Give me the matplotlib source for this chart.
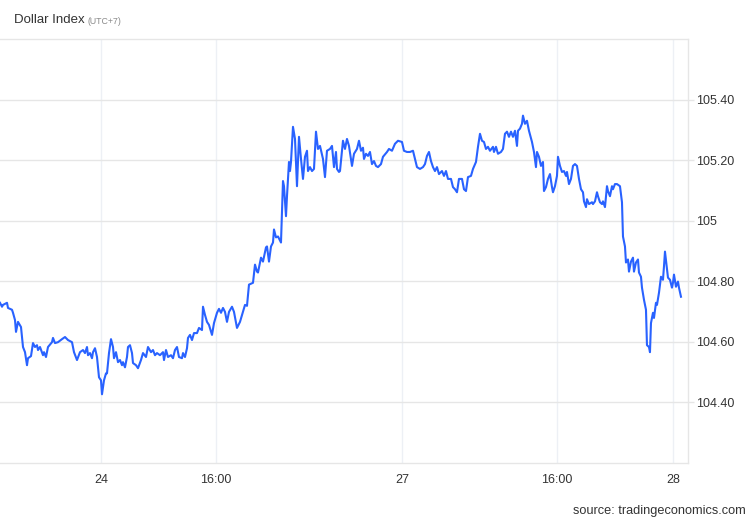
import matplotlib
matplotlib.use("Agg")
import matplotlib.pyplot as plt
from matplotlib.ticker import FuncFormatter

plt.rcParams["font.family"] = ["Liberation Sans", "DejaVu Sans"]

# position along the (trading-time) axis and index level
t = [
    0, 2, 3, 7, 8, 12, 13, 15, 16, 18, 21, 23, 25, 27, 28, 31, 33, 35, 37, 38,
    40, 43, 44, 46, 48, 52, 53, 55, 58, 62, 65, 68, 72, 74, 77, 80, 83, 85, 87, 88,
    90, 92, 93, 95, 97, 99, 101, 102, 104, 106, 107, 109, 111, 113, 114, 116, 118, 120, 122, 123,
    125, 127, 128, 130, 132, 133, 136, 138, 141, 143, 146, 148, 151, 153, 155, 157, 160, 163, 164, 166,
    168, 171, 173, 175, 177, 179, 182, 183, 185, 187, 188, 190, 192, 194, 197, 199, 202, 203, 205, 207,
    209, 212, 214, 217, 219, 221, 223, 225, 227, 229, 232, 234, 237, 240, 243, 245, 247, 249, 253, 255,
    257, 258, 261, 263, 266, 267, 269, 271, 273, 274, 276, 278, 281, 283, 284, 286, 287, 289, 290, 291,
    293, 295, 297, 299, 301, 303, 305, 307, 308, 310, 312, 314, 316, 318, 320, 323, 325, 327, 330, 332,
    334, 336, 337, 339, 340, 343, 345, 347, 349, 352, 354, 357, 359, 361, 363, 364, 366, 368, 370, 372,
    374, 376, 378, 381, 383, 387, 389, 392, 395, 398, 402, 404, 407, 410, 413, 415, 417, 420, 423, 425,
    427, 429, 431, 433, 435, 437, 439, 442, 444, 446, 448, 451, 453, 455, 457, 459, 462, 464, 466, 468,
    471, 473, 476, 478, 480, 482, 484, 486, 488, 490, 493, 494, 496, 498, 501, 503, 505, 507, 509, 511,
    513, 515, 517, 518, 520, 522, 523, 525, 527, 529, 532, 534, 536, 537, 539, 541, 543, 544, 546, 548,
    550, 552, 553, 555, 557, 558, 560, 562, 564, 566, 567, 569, 571, 573, 575, 577, 579, 581, 583, 584,
    586, 587, 589, 592, 593, 595, 597, 598, 600, 602, 603, 605, 607, 608, 610, 612, 613, 615, 617, 620,
    622, 623, 625, 626, 628, 629, 631, 633, 634, 636, 638, 639, 641, 642, 644, 646, 647, 649, 650, 651,
    653, 654, 656, 657, 659, 661, 663, 664, 665, 667, 668, 670, 672, 673, 674, 676, 678, 679, 681,
]
dxy = [
    104.729, 104.716, 104.722, 104.729, 104.712, 104.706, 104.696, 104.672, 104.633, 104.666,
    104.649, 104.583, 104.566, 104.523, 104.546, 104.553, 104.596, 104.583, 104.589, 104.573,
    104.583, 104.556, 104.566, 104.550, 104.583, 104.599, 104.613, 104.596, 104.599, 104.609,
    104.616, 104.606, 104.599, 104.566, 104.540, 104.566, 104.573, 104.563, 104.583, 104.556,
    104.563, 104.546, 104.566, 104.579, 104.550, 104.483, 104.473, 104.427, 104.473, 104.496,
    104.496, 104.563, 104.609, 104.583, 104.546, 104.566, 104.533, 104.540, 104.523, 104.533,
    104.516, 104.550, 104.583, 104.589, 104.563, 104.530, 104.523, 104.513, 104.540, 104.563,
    104.550, 104.583, 104.566, 104.573, 104.556, 104.563, 104.556, 104.566, 104.540, 104.573,
    104.550, 104.556, 104.546, 104.573, 104.583, 104.550, 104.546, 104.563, 104.550, 104.579,
    104.613, 104.623, 104.606, 104.629, 104.629, 104.646, 104.639, 104.716, 104.689, 104.666,
    104.656, 104.623, 104.662, 104.696, 104.709, 104.696, 104.712, 104.699, 104.666, 104.699,
    104.716, 104.699, 104.646, 104.666, 104.699, 104.722, 104.719, 104.789, 104.795, 104.855,
    104.832, 104.829, 104.878, 104.865, 104.912, 104.915, 104.865, 104.915, 104.928, 104.971,
    104.945, 104.948, 104.928, 105.131, 105.114, 105.015, 105.081, 105.194, 105.164, 105.194,
    105.310, 105.270, 105.114, 105.277, 105.204, 105.138, 105.211, 105.231, 105.164, 105.177,
    105.164, 105.171, 105.294, 105.237, 105.247, 105.204, 105.144, 105.231, 105.237, 105.247,
    105.177, 105.227, 105.171, 105.161, 105.164, 105.264, 105.237, 105.270, 105.247, 105.181,
    105.221, 105.237, 105.264, 105.231, 105.241, 105.204, 105.221, 105.214, 105.227, 105.187,
    105.197, 105.181, 105.177, 105.187, 105.211, 105.227, 105.237, 105.231, 105.254, 105.264,
    105.260, 105.231, 105.227, 105.227, 105.231, 105.204, 105.177, 105.171, 105.177, 105.187,
    105.214, 105.227, 105.197, 105.177, 105.164, 105.177, 105.154, 105.164, 105.148, 105.164,
    105.138, 105.138, 105.111, 105.104, 105.094, 105.138, 105.138, 105.104, 105.098, 105.144,
    105.148, 105.171, 105.194, 105.244, 105.287, 105.264, 105.260, 105.237, 105.244, 105.231,
    105.244, 105.227, 105.244, 105.221, 105.227, 105.237, 105.287, 105.294, 105.277, 105.294,
    105.277, 105.297, 105.247, 105.297, 105.304, 105.320, 105.347, 105.320, 105.330, 105.297,
    105.260, 105.227, 105.177, 105.227, 105.211, 105.181, 105.194, 105.098, 105.111, 105.138,
    105.154, 105.111, 105.094, 105.114, 105.148, 105.211, 105.181, 105.161, 105.164, 105.148,
    105.161, 105.121, 105.138, 105.181, 105.187, 105.181, 105.138, 105.104, 105.094, 105.064,
    105.045, 105.071, 105.055, 105.061, 105.055, 105.064, 105.094, 105.081, 105.061, 105.055,
    105.064, 105.045, 105.114, 105.098, 105.081, 105.114, 105.104, 105.121, 105.121, 105.114,
    105.061, 104.948, 104.915, 104.862, 104.872, 104.832, 104.865, 104.878, 104.832, 104.862,
    104.872, 104.829, 104.815, 104.779, 104.739, 104.706, 104.589, 104.583, 104.566, 104.662,
    104.696, 104.679, 104.729, 104.722, 104.762, 104.815, 104.805, 104.849, 104.898, 104.839,
    104.812, 104.805, 104.779, 104.795, 104.822, 104.782, 104.799, 104.779, 104.749,
]

x_tick_pos = [101, 216, 402, 557, 673]
x_tick_labels = ["24", "16:00", "27", "16:00", "28"]
y_ticks = [104.40, 104.60, 104.80, 105.00, 105.20, 105.40]

line_color = "#2962ff"
grid_color = "#e6e6e6"
vgrid_color = "#edf0f5"
text_color = "#333333"

fig = plt.figure(figsize=(7.5, 5.2), dpi=100)
ax = fig.add_axes([0.0, 0.1096, 0.9173, 0.8154])

ax.plot(t, dxy, color=line_color, lw=1.5, solid_joinstyle="round", zorder=3)

ax.set_xlim(0, 688)
ax.set_ylim(104.2, 105.6)

ax.set_xticks(x_tick_pos)
ax.set_xticklabels(x_tick_labels)
ax.set_yticks(y_ticks)
ax.yaxis.set_major_formatter(
    FuncFormatter(lambda v, _: "105" if abs(v - 105) < 1e-9 else f"{v:.2f}")
)
ax.yaxis.tick_right()

ax.grid(axis="y", color=grid_color, lw=1.0)
ax.grid(axis="x", color=vgrid_color, lw=1.0)
ax.set_axisbelow(True)

for side in ["top", "bottom", "right"]:
    ax.spines[side].set_color(grid_color)
    ax.spines[side].set_linewidth(1.0)
ax.spines["left"].set_visible(False)

ax.tick_params(axis="x", length=0, pad=8, labelsize=9, labelcolor=text_color)
ax.tick_params(axis="y", length=4, width=1.0, color=grid_color, pad=2,
               labelsize=9, labelcolor=text_color)

fig.text(14 / 750, 1 - 20 / 520, "Dollar Index", fontsize=9.5, color=text_color,
         ha="left", va="center")
fig.text(87 / 750, 1 - 21 / 520, "(UTC+7)", fontsize=6.3, color="#8a8a8a",
         ha="left", va="center")
fig.text(746 / 750, 1 - 511 / 520, "source: tradingeconomics.com", fontsize=9.2,
         color=text_color, ha="right", va="center")

fig.savefig("out.png", dpi=100, facecolor="white")
